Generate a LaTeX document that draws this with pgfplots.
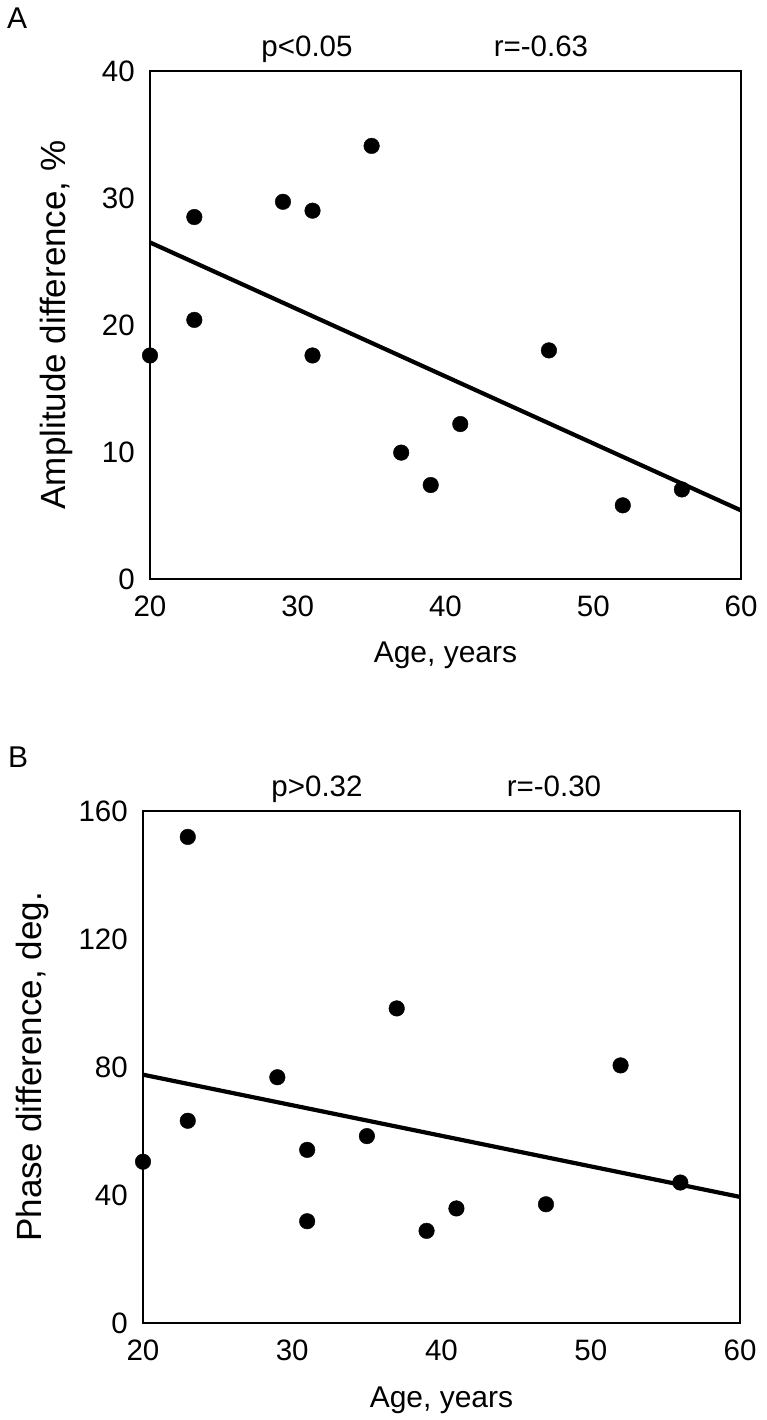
\documentclass[border=0pt]{standalone}
\usepackage{fontspec}
\setmainfont{Liberation Sans}
\usepackage{pgfplots}
\pgfplotsset{compat=1.18}
\pgfplotsset{myax/.style={
  scale only axis, anchor=south west,
  xmin=20, xmax=60, xtick={20,30,40,50,60},
  major tick length=0pt,
  axis line style={line width=2.2pt},
  clip=false,
  /pgf/number format/assume math mode=true,
  tick label style={font=\fontsize{29.5}{29.5}\selectfont, inner sep=0pt},
  yticklabel style={xshift=-15pt},
  xticklabel style={yshift=-17pt},
  xlabel={Age, years},
  xlabel style={at={(axis description cs:0.5,0)}, anchor=base, yshift=-84pt, font=\fontsize{30}{30}\selectfont},
  ylabel style={anchor=center, font=\fontsize{35}{35}\selectfont},
}}
\begin{document}
\begin{tikzpicture}
\useasboundingbox (0,0) rectangle (766pt,1420pt);
\begin{axis}[myax, at={(150pt,841pt)}, width=591pt, height=508pt,
  ymin=0, ymax=40, ytick={0,10,20,30,40},
  ylabel={Amplitude difference, \%},
  ylabel style={at={(axis description cs:-0.159,0.5)}}]
\addplot[only marks, mark=*, mark size=7.8pt, black] coordinates {
(20,17.6) (23,28.5) (23,20.4) (29,29.7) (31,29.0) (31,17.6) (35,34.1)
(37,9.95) (39,7.4) (41,12.2) (47,18.0) (52,5.8) (56,7.05)};
\addplot[black, line width=4.2pt] coordinates {(20,26.5) (60,5.4)};
\end{axis}
\begin{axis}[myax, at={(143pt,97pt)}, width=597pt, height=512pt,
  ymin=0, ymax=160, ytick={0,40,80,120,160},
  ylabel={Phase difference, deg.},
  ylabel style={at={(axis description cs:-0.186,0.5)}}]
\addplot[only marks, mark=*, mark size=7.8pt, black] coordinates {
(20,50.4) (23,151.9) (23,63.2) (29,76.8) (31,54.1) (31,31.8) (35,58.4)
(37,98.3) (39,28.8) (41,35.8) (47,37.1) (52,80.5) (56,43.9)};
\addplot[black, line width=4.2pt] coordinates {(20,77.6) (60,39.4)};
\end{axis}
\node[anchor=base west, inner sep=0pt, font=\fontsize{30}{30}\selectfont] at (7pt,1391pt) {A};
\node[anchor=base west, inner sep=0pt, font=\fontsize{30}{30}\selectfont] at (8pt,652pt) {B};
\node[anchor=base, inner sep=0pt, font=\fontsize{29.5}{30}\selectfont] at (307pt,1363pt) {p<0.05};
\node[anchor=base, inner sep=0pt, font=\fontsize{29.5}{30}\selectfont] at (541pt,1363pt) {r=-0.63};
\node[anchor=base, inner sep=0pt, font=\fontsize{29.5}{30}\selectfont] at (317pt,623pt) {p>0.32};
\node[anchor=base, inner sep=0pt, font=\fontsize{29.5}{30}\selectfont] at (554pt,623pt) {r=-0.30};
\end{tikzpicture}
\end{document}
